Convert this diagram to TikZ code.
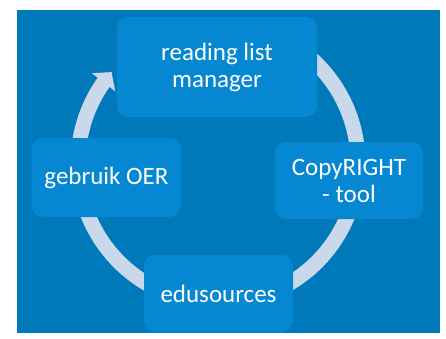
\documentclass[tikz,border=0pt]{standalone}
\usepackage{fontspec}
\setmainfont{Carlito}
\usetikzlibrary{arrows.meta,bending}
\definecolor{bgblue}{RGB}{0,121,186}
\definecolor{boxblue}{RGB}{5,136,209}
\definecolor{ringcol}{RGB}{201,216,234}
\begin{document}
\begin{tikzpicture}[x=1pt,y=1pt,
  box/.style={fill=boxblue, rounded corners=11pt, text=white, align=center,
    font=\fontsize{25}{27}\selectfont, inner sep=0pt},
  ring/.style={draw=ringcol, line width=15pt}]
\useasboundingbox (0,0) rectangle (446,338);
\fill[bgblue] (17,5) rectangle (440,328);
\coordinate (c) at (218,175);
% ring segments (drawn before boxes)
\draw[ring] ([shift={(60:140)}]c) arc (60:0:140);
\draw[ring] ([shift={(0:140)}]c) arc (0:-70:140);
\draw[ring] ([shift={(-110:140)}]c) arc (-110:-180:140);
\draw[ring, -{Triangle[width=29pt,length=13pt,flex]}] ([shift={(180:140)}]c) arc (180:139.5:140);
% boxes
\node[box, minimum width=200pt, minimum height=100pt] (rl) at (217,271) {reading list\\manager};
\node[box, minimum width=148pt, minimum height=77pt] (cr) at (349,157.5) {CopyRIGHT\\- tool};
\node[box, minimum width=149pt, minimum height=77pt] (edu) at (218.5,44.5) {edusources};
\node[box, minimum width=149pt, minimum height=79pt] (geb) at (106.5,160.5) {gebruik OER};
\end{tikzpicture}
\end{document}
